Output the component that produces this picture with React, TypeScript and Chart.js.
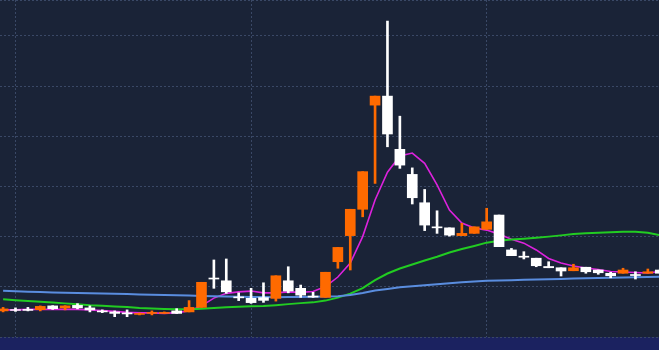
import React, { useEffect, useRef } from "react";
import { Chart, registerables } from "chart.js";

Chart.register(...registerables);

// Candle data (price units), one entry per session
const opens = [1.04, 1.09, 1.10, 1.09, 1.24, 1.16, 1.26, 1.16, 1.04, 1.00, 0.96, 0.90, 0.94, 0.94, 1.04, 1.00, 1.18, 2.35, 2.24, 1.60, 1.54, 1.57, 1.54, 2.24, 1.94, 1.63, 1.58, 3.00, 4.04, 5.09, 9.24, 9.60, 7.48, 6.48, 5.35, 4.39, 4.35, 4.04, 4.13, 4.29, 4.86, 3.47, 3.22, 3.14, 2.81, 2.76, 2.64, 2.78, 2.67, 2.54, 2.54, 2.49, 2.54, 2.67];
const closes = [1.12, 1.06, 1.06, 1.22, 1.13, 1.24, 1.16, 1.08, 1.00, 0.94, 0.92, 0.94, 0.98, 0.98, 0.94, 1.18, 2.18, 2.31, 1.80, 1.56, 1.37, 1.46, 2.44, 1.83, 1.67, 1.59, 2.58, 3.57, 5.09, 6.59, 9.60, 8.09, 6.85, 5.55, 4.46, 4.35, 4.06, 4.13, 4.39, 4.59, 3.60, 3.24, 3.18, 2.84, 2.76, 2.63, 2.76, 2.60, 2.56, 2.44, 2.67, 2.45, 2.60, 2.54];
const highs = [1.18, 1.16, 1.18, 1.24, 1.25, 1.25, 1.33, 1.24, 1.08, 1.04, 1.08, 0.96, 1.04, 1.00, 1.13, 1.45, 2.18, 3.07, 3.11, 1.76, 1.94, 2.16, 2.44, 2.80, 2.07, 1.78, 2.58, 3.57, 5.09, 6.59, 9.60, 12.59, 8.80, 6.74, 5.88, 5.03, 4.35, 4.53, 4.39, 5.13, 4.86, 3.53, 3.40, 3.14, 3.00, 2.76, 2.90, 2.78, 2.67, 2.58, 2.74, 2.60, 2.71, 2.71];
const lows = [1.00, 1.02, 1.04, 1.04, 1.10, 1.08, 1.12, 1.00, 0.97, 0.81, 0.81, 0.88, 0.88, 0.94, 0.94, 1.00, 1.18, 1.94, 1.74, 1.45, 1.34, 1.38, 1.43, 1.76, 1.58, 1.58, 1.58, 2.74, 2.67, 4.79, 6.12, 7.58, 6.72, 5.30, 4.24, 4.13, 4.02, 4.04, 4.13, 4.29, 3.60, 3.24, 3.11, 2.80, 2.76, 2.43, 2.64, 2.54, 2.50, 2.36, 2.54, 2.31, 2.54, 2.51];

// Moving average lines
const maShort = [1.08, 1.08, 1.10, 1.10, 1.10, 1.10, 1.10, 1.08, 1.05, 1.02, 0.98, 0.96, 0.96, 0.94, 0.97, 1.04, 1.24, 1.55, 1.74, 1.80, 1.83, 1.76, 1.76, 1.80, 1.78, 1.81, 2.01, 2.39, 2.95, 4.00, 5.46, 6.57, 7.21, 7.33, 6.92, 6.06, 5.06, 4.54, 4.34, 4.26, 4.10, 3.90, 3.74, 3.47, 3.13, 2.95, 2.83, 2.75, 2.69, 2.61, 2.59, 2.57, 2.55, 2.61];
const maMid = [1.50, 1.46, 1.43, 1.40, 1.37, 1.34, 1.31, 1.27, 1.25, 1.22, 1.20, 1.16, 1.14, 1.12, 1.11, 1.11, 1.13, 1.16, 1.19, 1.21, 1.23, 1.24, 1.27, 1.31, 1.35, 1.38, 1.45, 1.57, 1.73, 1.95, 2.27, 2.53, 2.73, 2.89, 3.05, 3.20, 3.37, 3.51, 3.63, 3.76, 3.84, 3.89, 3.92, 3.96, 4.00, 4.05, 4.10, 4.13, 4.15, 4.17, 4.19, 4.19, 4.15, 4.06];
const maLong = [1.84, 1.82, 1.80, 1.79, 1.77, 1.76, 1.75, 1.74, 1.73, 1.72, 1.71, 1.69, 1.68, 1.67, 1.66, 1.65, 1.63, 1.62, 1.61, 1.60, 1.59, 1.59, 1.58, 1.59, 1.59, 1.60, 1.61, 1.62, 1.67, 1.75, 1.85, 1.91, 1.98, 2.02, 2.06, 2.10, 2.14, 2.18, 2.21, 2.24, 2.25, 2.26, 2.28, 2.29, 2.30, 2.31, 2.33, 2.34, 2.35, 2.36, 2.37, 2.38, 2.39, 2.40];

// Grid positions (candle indices) and price grid step
const xGridTicks = [1, 20, 39];
const yGridStep = 2;

const UP = "#ff6a00";
const DOWN = "#ffffff";
const BG = "#1a2337";
const BAND = "#1b2260";
const GRID = "#3a4866";

export default function App() {
  const ref = useRef<HTMLCanvasElement | null>(null);

  useEffect(() => {
    document.body.style.margin = "0";
    const canvas = ref.current;
    if (!canvas) return;
    const idx = opens.map((_, i) => i);
    const colors = idx.map((i) => (closes[i] >= opens[i] ? UP : DOWN));

    const bgPlugin = {
      id: "bgFill",
      beforeDraw(chart: any) {
        const { ctx, chartArea, width, height } = chart;
        ctx.save();
        ctx.fillStyle = BAND;
        ctx.fillRect(0, 0, width, height);
        ctx.fillStyle = BG;
        ctx.fillRect(chartArea.left, chartArea.top, chartArea.right - chartArea.left, chartArea.bottom - chartArea.top);
        ctx.restore();
      },
    };

    const lineDs = (data: number[], color: string, width: number) => ({
      type: "line" as const,
      data: idx.map((i) => ({ x: i, y: data[i] })),
      borderColor: color,
      borderWidth: width,
      pointRadius: 0,
      tension: 0,
      order: 2,
    });

    const chart = new Chart(canvas, {
      type: "bar",
      data: {
        datasets: [
          {
            type: "bar",
            data: idx.map((i) => ({ x: i, y: [lows[i], highs[i]] })) as any,
            backgroundColor: colors,
            barThickness: 2,
            grouped: false,
            order: 1,
          } as any,
          {
            type: "bar",
            data: idx.map((i) => ({ x: i, y: [opens[i], closes[i]] })) as any,
            backgroundColor: colors,
            barThickness: 10,
            grouped: false,
            order: 0,
          } as any,
          lineDs(maLong, "#5a8ddf", 2),
          lineDs(maMid, "#22cc22", 2),
          lineDs(maShort, "#dd22dd", 1.6),
        ],
      },
      options: {
        responsive: false,
        animation: false,
        devicePixelRatio: 1,
        layout: { padding: { left: 0, right: 0, top: 0, bottom: 13 } },
        plugins: { legend: { display: false }, tooltip: { enabled: false } },
        scales: {
          x: {
            type: "linear",
            min: -0.25,
            max: 52.9,
            offset: false,
            ticks: { display: false },
            afterBuildTicks: (scale: any) => {
              scale.ticks = xGridTicks.map((v) => ({ value: v }));
            },
            grid: { color: GRID, lineWidth: 1, drawTicks: false, offset: false },
            border: { display: false, dash: [2, 2] },
          },
          y: {
            type: "linear",
            min: 0,
            max: 13.43,
            ticks: { display: false, stepSize: yGridStep },
            grid: { color: GRID, lineWidth: 1, drawTicks: false },
            border: { display: false, dash: [2, 2] },
          },
        },
      } as any,
      plugins: [bgPlugin],
    });
    return () => chart.destroy();
  }, []);

  return (
    <div style={{ width: 659, height: 350 }}>
      <canvas ref={ref} width={659} height={350} style={{ display: "block" }} />
    </div>
  );
}
